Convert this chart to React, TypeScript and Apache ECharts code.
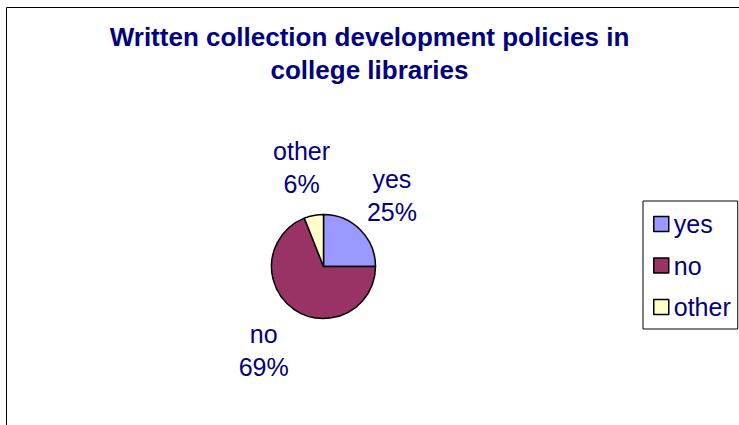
import React, { useEffect, useRef } from 'react';
import * as echarts from 'echarts';

const titleText = 'Written collection development policies in\ncollege libraries';
const categories = ['yes', 'no', 'other'];
const values = [25, 69, 6];
const colors = ['#9999FF', '#993366', '#FFFFCC'];

const FONT = '"Liberation Sans", Arial, sans-serif';
const NAVY = '#000080';

export default function App() {
  const ref = useRef<HTMLDivElement>(null);

  useEffect(() => {
    const chart = echarts.init(ref.current as HTMLDivElement, null, { renderer: 'svg' });
    chart.setOption({
      animation: false,
      backgroundColor: '#ffffff',
      graphic: [
        {
          type: 'rect',
          silent: true,
          z: -10,
          shape: { x: 6.5, y: 7.5, width: 800, height: 500 },
          style: { fill: 'none', stroke: '#000000', lineWidth: 1 },
        },
      ],
      title: {
        text: titleText,
        left: 'center',
        top: 20,
        padding: 0,
        textStyle: {
          fontFamily: FONT,
          fontSize: 26,
          fontWeight: 'bold',
          color: NAVY,
          lineHeight: 33,
        },
      },
      legend: {
        orient: 'vertical',
        left: 643,
        top: 201,
        padding: [10.5, 7, 9.5, 10],
        itemGap: 16.5,
        itemWidth: 15,
        itemHeight: 15,
        icon: 'rect',
        borderColor: '#000000',
        borderWidth: 1,
        data: categories,
        itemStyle: { borderColor: '#000000', borderWidth: 1.5 },
        textStyle: { fontFamily: FONT, fontSize: 25, color: NAVY, lineHeight: 25 },
      },
      series: [
        {
          type: 'pie',
          center: [323.5, 266.5],
          radius: 52,
          startAngle: 90,
          clockwise: true,
          itemStyle: { borderColor: '#000000', borderWidth: 1.5 },
          data: categories.map((c, i) => ({
            name: c,
            value: values[i],
            itemStyle: { color: colors[i] },
          })),
          label: {
            show: true,
            position: 'outside',
            formatter: '{b}\n{d}%',
            fontFamily: FONT,
            fontSize: 25,
            lineHeight: 33,
            color: NAVY,
          },
          labelLine: {
            show: true,
            length: 10,
            length2: 0,
            lineStyle: { color: 'rgba(0,0,0,0)', width: 0 },
          },
          labelLayout: (params: any) => {
            const pts = params.labelLinePoints;
            if (!pts || pts.length < 2) return {};
            const p0 = pts[0];
            const p1 = pts[1];
            const dx = p1[0] - p0[0];
            const dy = p1[1] - p0[1];
            const len = Math.hypot(dx, dy) || 1;
            return {
              x: p0[0] + (dx / len) * 49 - 3,
              y: p0[1] + (dy / len) * 49,
              align: 'center',
              verticalAlign: 'middle',
            };
          },
        },
      ],
    });
    return () => chart.dispose();
  }, []);

  return (
    <div
      ref={ref}
      style={{ position: 'fixed', left: 0, top: 0, width: 739, height: 425 }}
    />
  );
}
